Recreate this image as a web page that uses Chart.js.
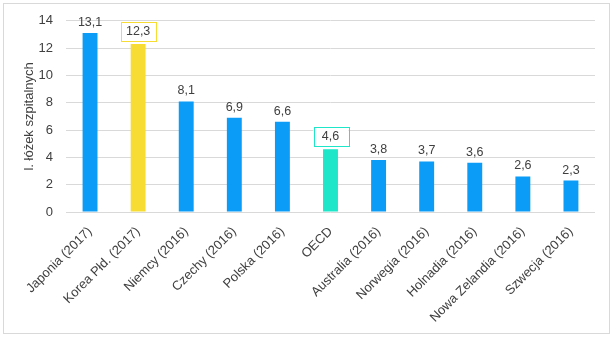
<!DOCTYPE html>
<html>
<head>
<meta charset="utf-8">
<script src="https://cdn.jsdelivr.net/npm/chart.js@4"></script>
<style>
  html, body { margin: 0; padding: 0; background: #fff; }
  #wrap { width: 615px; height: 339px; position: relative; }
</style>
</head>
<body>
<div id="wrap"><canvas id="bedsChart" width="615" height="339"></canvas></div>
<script>
// --- Dane ---
const categories = ['Japonia (2017)', 'Korea Płd. (2017)', 'Niemcy (2016)', 'Czechy (2016)', 'Polska (2016)',
  'OECD', 'Australia (2016)', 'Norwegia (2016)', 'Holnadia (2016)', 'Nowa Zelandia (2016)', 'Szwecja (2016)'];
const beds = [13.1, 12.3, 8.1, 6.9, 6.6, 4.6, 3.8, 3.7, 3.6, 2.6, 2.3];
const yTicks = [0, 2, 4, 6, 8, 10, 12, 14];
const yTitle = 'l. łóżek szpitalnych';

// --- Style ---
const BLUE = '#0A9CF6';
const highlight = { 'Korea Płd. (2017)': '#F7DD33', 'OECD': '#1DE6C9' };
const TEXT = '#404040';
const GRID = '#D9D9D9';
const FONT = 'Arial, "Liberation Sans", sans-serif';

const fmt = v => v.toFixed(1).replace('.', ',');

// etykiety wartości nad słupkami (z ramką dla wyróżnionych)
const valueLabels = {
  id: 'valueLabels',
  afterDatasetsDraw(chart) {
    const ctx = chart.ctx;
    const meta = chart.getDatasetMeta(0);
    ctx.save();
    ctx.font = '12.5px ' + FONT;
    ctx.textAlign = 'center';
    ctx.textBaseline = 'middle';
    meta.data.forEach((bar, i) => {
      const txt = fmt(beds[i]);
      const boxColor = highlight[categories[i]];
      const cy = bar.y - (boxColor ? 13.5 : 11.5);
      if (boxColor) {
        ctx.fillStyle = '#fff';
        ctx.fillRect(bar.x - 17, cy - 9, 35, 19);
        ctx.strokeStyle = boxColor;
        ctx.lineWidth = 1;
        ctx.strokeRect(Math.round(bar.x - 17) + 0.5, Math.round(cy - 9) + 0.5, 35, 19);
      }
      ctx.fillStyle = TEXT;
      ctx.fillText(txt, bar.x, cy + 1);
    });
    ctx.restore();
  }
};

// ramka całego wykresu
const outerBorder = {
  id: 'outerBorder',
  afterDraw(chart) {
    const ctx = chart.ctx;
    ctx.save();
    ctx.strokeStyle = GRID;
    ctx.lineWidth = 1;
    ctx.strokeRect(3.5, 3.5, 606, 330);
    ctx.restore();
  }
};

new Chart(document.getElementById('bedsChart'), {
  type: 'bar',
  data: {
    labels: categories,
    datasets: [{
      data: beds,
      backgroundColor: categories.map(c => highlight[c] || BLUE),
      barPercentage: 0.31,
      categoryPercentage: 1
    }]
  },
  options: {
    responsive: false,
    animation: false,
    events: [],
    layout: { padding: { top: 17, left: 4, right: 20, bottom: 6 } },
    plugins: { legend: { display: false }, tooltip: { enabled: false } },
    scales: {
      x: {
        grid: { display: false, drawTicks: false },
        border: { display: false },
        ticks: {
          color: TEXT,
          font: { family: FONT, size: 13 },
          minRotation: 45,
          maxRotation: 45,
          autoSkip: false,
          padding: 12
        },
        afterFit(scale) { scale.height = 121; }
      },
      y: {
        min: 0,
        max: 14,
        afterBuildTicks(scale) { scale.ticks = yTicks.map(v => ({ value: v })); },
        grid: { color: GRID, drawTicks: false },
        border: { display: false },
        ticks: {
          color: TEXT,
          font: { family: FONT, size: 13 },
          padding: 13
        },
        title: {
          display: true,
          text: yTitle,
          color: TEXT,
          font: { family: FONT, size: 13 },
          padding: { top: 18, bottom: 0 }
        },
        afterFit(scale) { scale.width = 62; }
      }
    }
  },
  plugins: [valueLabels, outerBorder]
});
</script>
</body>
</html>
